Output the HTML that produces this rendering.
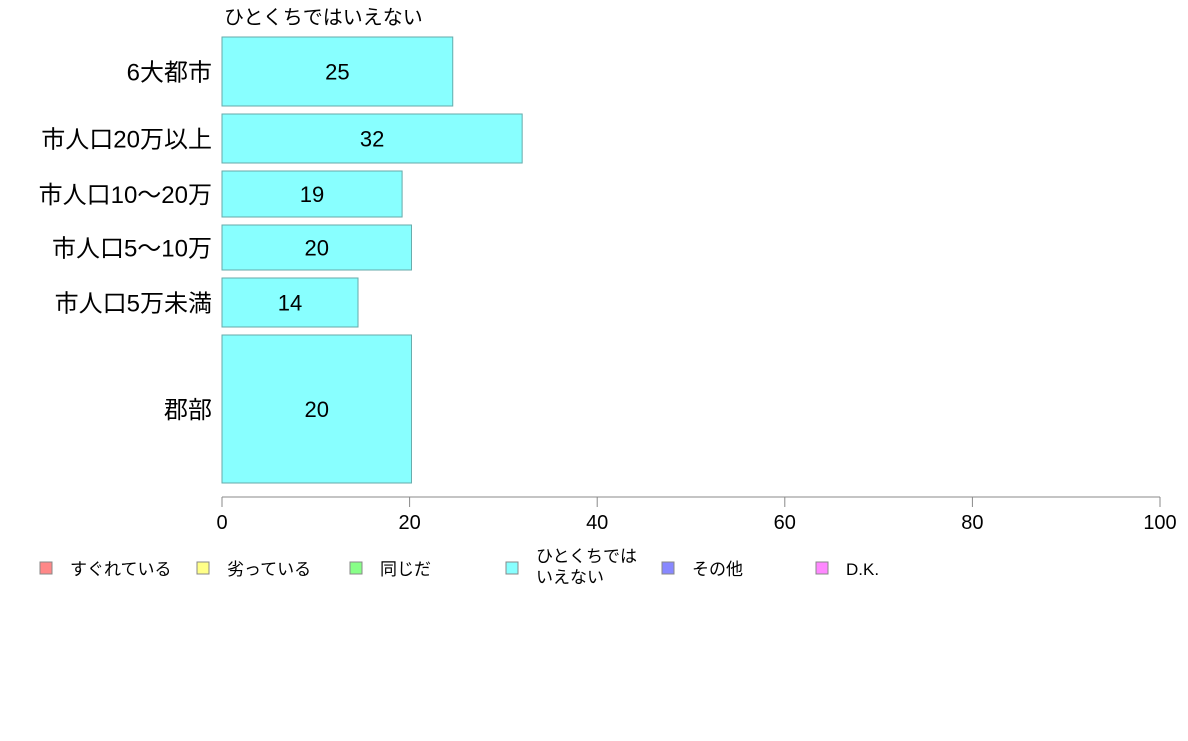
<!DOCTYPE html>
<html><head><meta charset="utf-8">
<style>
body{margin:0;background:#fff;}
svg text{font-family:"Liberation Sans","Noto Sans CJK JP",sans-serif;}
</style></head>
<body>
<svg width="1188" height="736" viewBox="0 0 1188 736">
<text x="224" y="24" font-size="20" fill="#000">ひとくちではいえない</text>
<g id="bars"></g>
<g id="axis"></g>
<g id="legend"></g>
</svg>
<script>
const categories=["6大都市","市人口20万以上","市人口10〜20万","市人口5〜10万","市人口5万未満","郡部"];
const values=[24.6,32.0,19.2,20.2,14.5,20.2];
const labels=["25","32","19","20","14","20"];
const ticks=[0,20,40,60,80,100];
const legendNames=["すぐれている","劣っている","同じだ","ひとくちでは|いえない","その他","D.K."];
const legendColors=["#ff8888","#ffff88","#88ff88","#88ffff","#8888ff","#ff88ff"];
const rowTops=[37,114,171,225,278,335];
const rowBottoms=[106,163,217,270,327,483];
const NS="http://www.w3.org/2000/svg";
const x0=222,x1=1160;
const xs=v=>x0+(x1-x0)*v/100;
function mk(t,a,p){const e=document.createElementNS(NS,t);for(const k in a)e.setAttribute(k,a[k]);p.appendChild(e);return e;}
const gb=document.getElementById("bars");
categories.forEach((c,i)=>{
 const y=rowTops[i],h=rowBottoms[i]-rowTops[i];
 const r=mk("rect",{x:x0,y:y,width:xs(values[i])-x0,height:h,fill:"#88ffff",stroke:"#66aaaa","stroke-width":1},gb);
 
 
 const t=mk("text",{x:(x0+xs(values[i]))/2,y:y+h/2+8,"text-anchor":"middle","font-size":22},gb);t.textContent=labels[i];
 
 
 const l=mk("text",{x:212,y:y+h/2+9,"text-anchor":"end","font-size":24},gb);l.textContent=c;
 
 
});
const ga=document.getElementById("axis");
const al=mk("line",{x1:x0,y1:497,x2:x1,y2:497,stroke:"#888"},ga);


ticks.forEach(v=>{
 mk("line",{x1:xs(v),y1:497,x2:xs(v),y2:507,stroke:"#888"},ga);
 const t=mk("text",{x:xs(v),y:529,"text-anchor":"middle","font-size":20},ga);t.textContent=v;
 
 
});
const gl=document.getElementById("legend");
const lx=[40,197,350,506,662,816];
legendNames.forEach((n,i)=>{
 const s=mk("rect",{x:lx[i],y:562,width:12,height:12,fill:legendColors[i],stroke:"#888"},gl);
 
 
 const parts=n.split("|");
 parts.forEach((p,j)=>{
  const t=mk("text",{x:lx[i]+30,y:(parts.length>1?562:575)+j*21,"font-size":17},gl);t.textContent=p;
  
  
 });
});
</script>
</body></html>
